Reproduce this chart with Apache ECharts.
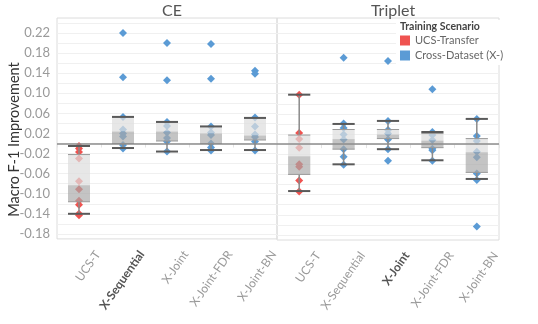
<!DOCTYPE html>
<html><head><meta charset="utf-8">
<script src="https://cdn.jsdelivr.net/npm/echarts@6/dist/echarts.min.js"></script>
<style>html,body{margin:0;padding:0;background:#fff}#c{width:538px;height:324px}</style>
</head><body><div id="c"></div>
<script>
// ---- data ----
const categories = ['UCS-T', 'X-Sequential', 'X-Joint', 'X-Joint-FDR', 'X-Joint-BN'];
const panels = ['CE', 'Triplet'];
const boldCategory = ['X-Sequential', 'X-Joint'];           // highlighted label per panel
const yTickLabels = ['-0.18', '-0.14', '-0.10', '-0.06', '-0.02', '0.02', '0.06', '0.10', '0.14', '0.18', '0.22'];
const seriesNames = ['UCS-Transfer', 'Cross-Dataset (X-)'];

// individual runs (Macro F-1 improvement)
const ceUcsT = [-0.005, -0.010, -0.017, -0.030, -0.075, -0.091, -0.114, -0.122, -0.140, -0.143];
const ceXSeq = [0.220, 0.132, 0.053, 0.028, 0.020, 0.014, -0.003, -0.010];
const ceXJoint = [0.200, 0.126, 0.043, 0.035, 0.022, 0.011, 0.004, -0.016];
const ceXJointFDR = [0.198, 0.129, 0.034, 0.022, 0.017, 0.000, -0.008, -0.014];
const ceXJointBN = [0.145, 0.139, 0.052, 0.034, 0.018, 0.013, 0.004, -0.014];
const trUcsT = [0.098, 0.022, 0.010, -0.007, -0.040, -0.045, -0.072, -0.094];
const trXSeq = [0.171, 0.041, 0.032, 0.019, 0.009, -0.010, -0.025, -0.041];
const trXJoint = [0.165, 0.046, 0.028, 0.021, 0.009, -0.010, -0.033];
const trXJointFDR = [0.109, 0.024, 0.018, 0.008, -0.009, -0.012, -0.033];
const trXJointBN = [0.050, 0.016, 0.006, -0.015, -0.026, -0.058, -0.071, -0.163];

// box stats: [lower whisker, Q1, median, Q3, upper whisker]
const ceBoxStats = [
  [-0.140, -0.116, -0.083, -0.022, -0.005],
  [-0.009, 0.000, 0.024, 0.053, 0.053],
  [-0.016, 0.005, 0.024, 0.043, 0.043],
  [-0.013, 0.000, 0.020, 0.034, 0.034],
  [-0.013, 0.007, 0.016, 0.051, 0.051]
];
const trBoxStats = [
  [-0.093, -0.060, -0.024, 0.018, 0.098],
  [-0.040, -0.010, 0.010, 0.029, 0.040],
  [-0.010, 0.011, 0.019, 0.029, 0.046],
  [-0.032, -0.007, 0.007, 0.021, 0.024],
  [-0.069, -0.056, -0.016, 0.011, 0.050]
];

const panelPoints = [
  [ceUcsT, ceXSeq, ceXJoint, ceXJointFDR, ceXJointBN],
  [trUcsT, trXSeq, trXJoint, trXJointFDR, trXJointBN]
];
const panelBoxes = [ceBoxStats, trBoxStats];

// ---- style ----
const RED = '#ef5350';
const BLUE = '#5b9bd5';
const FONT = 'Lato';

function renderBox(params, api) {
  const x = api.value(0);
  const pLow = api.coord([x, api.value(1)]);
  const pQ1 = api.coord([x, api.value(2)]);
  const pMed = api.coord([x, api.value(3)]);
  const pQ3 = api.coord([x, api.value(4)]);
  const pHigh = api.coord([x, api.value(5)]);
  const w = api.size([1, 0])[0] * 0.5;
  const cx = pLow[0];
  const whisk = { stroke: '#8a8a8a', lineWidth: 1.5 };
  const cap = { stroke: '#5a5a5a', lineWidth: 2 };
  const edge = { stroke: '#9a9a9a', lineWidth: 1 };
  return {
    type: 'group',
    children: [
      { type: 'line', shape: { x1: cx, y1: pHigh[1], x2: cx, y2: pQ3[1] }, style: whisk },
      { type: 'line', shape: { x1: cx, y1: pQ1[1], x2: cx, y2: pLow[1] }, style: whisk },
      { type: 'rect', shape: { x: cx - w / 2, y: pQ3[1], width: w, height: pMed[1] - pQ3[1] }, style: { fill: 'rgba(222,222,222,0.72)' } },
      { type: 'rect', shape: { x: cx - w / 2, y: pMed[1], width: w, height: pQ1[1] - pMed[1] }, style: { fill: 'rgba(168,168,168,0.68)' } },
      { type: 'line', shape: { x1: cx - w / 2, y1: pQ3[1], x2: cx + w / 2, y2: pQ3[1] }, style: edge },
      { type: 'line', shape: { x1: cx - w / 2, y1: pQ1[1], x2: cx + w / 2, y2: pQ1[1] }, style: edge },
      { type: 'line', shape: { x1: cx - w / 2, y1: pHigh[1], x2: cx + w / 2, y2: pHigh[1] }, style: cap },
      { type: 'line', shape: { x1: cx - w / 2, y1: pLow[1], x2: cx + w / 2, y2: pLow[1] }, style: cap }
    ]
  };
}

const grids = [
  { left: 57, top: 18, width: 220, height: 222 },
  { left: 277, top: 18, width: 222, height: 222 }
];

const xAxes = [], yAxes = [], series = [], titles = [];
panels.forEach((p, gi) => {
  grids[gi].show = true;
  grids[gi].borderColor = '#dcdcdc';
  grids[gi].borderWidth = 1;
  grids[gi].backgroundColor = 'transparent';
  xAxes.push({
    type: 'category', gridIndex: gi, data: categories,
    axisLine: { show: false },
    axisTick: { show: true, lineStyle: { color: '#e4e4e4' }, length: 4 },
    axisLabel: {
      interval: 0, rotate: 55, margin: 0, fontFamily: FONT, fontSize: 12, color: '#9a9a9a',
      align: 'right', verticalAlign: 'top', lineHeight: 46,
      formatter: v => v === boldCategory[gi] ? '{b|' + v + '}' : v,
      rich: { b: { fontWeight: 'bold', color: '#555', fontFamily: FONT, fontSize: 12, lineHeight: 46 } }
    },
    splitLine: { show: false }
  });
  yAxes.push({
    type: 'value', gridIndex: gi, min: -0.19, max: 0.25, interval: 0.01,
    name: gi === 0 ? 'Macro F-1 Improvement' : '',
    nameLocation: 'middle', nameGap: 35, nameMoveOverlap: false,
    nameTextStyle: { fontFamily: FONT, fontSize: 14.5, color: '#333', padding: [0, 22, 0, 0] },
    axisLine: { show: false }, axisTick: { show: false },
    axisLabel: {
      show: gi === 0, fontFamily: FONT, fontSize: 13, color: '#9a9a9a', margin: 7,
      formatter: v => {
        const s = (Math.round(v * 100) / 100).toFixed(2);
        return yTickLabels.indexOf(s) >= 0 ? s : '';
      }
    },
    splitLine: { show: true, lineStyle: { color: ['rgba(0,0,0,0)', '#f0f0f0'], width: 1 } }
  });
  titles.push({
    text: p, left: gi === 0 ? 167 : 388, top: -2, textAlign: 'center',
    textStyle: { fontFamily: FONT, fontSize: 16, fontWeight: 'normal', color: '#555' }
  });
  const pts = panelPoints[gi];
  series.push({
    name: seriesNames[0], type: 'scatter', xAxisIndex: gi, yAxisIndex: gi,
    symbol: 'diamond', symbolSize: 8, itemStyle: { color: RED, opacity: 1 }, z: 2,
    data: pts[0].map(v => [0, v])
  });
  const blue = [];
  for (let c = 1; c < categories.length; c++) pts[c].forEach(v => blue.push([c, v]));
  series.push({
    name: seriesNames[1], type: 'scatter', xAxisIndex: gi, yAxisIndex: gi,
    symbol: 'diamond', symbolSize: 8, itemStyle: { color: BLUE, opacity: 1 }, z: 2,
    data: blue
  });
  series.push({
    type: 'custom', xAxisIndex: gi, yAxisIndex: gi, z: 3,
    renderItem: renderBox,
    encode: { x: 0, y: [1, 2, 3, 4, 5] },
    data: panelBoxes[gi].map((b, i) => [i].concat(b)),
    markLine: {
      silent: true, symbol: 'none', label: { show: false },
      lineStyle: { color: '#8c8c8c', width: 1.5, type: 'solid' },
      data: [{ yAxis: 0 }]
    }
  });
});

titles.push({
  text: 'Training Scenario', left: 400, top: 21, padding: 0,
  textStyle: { fontFamily: FONT, fontSize: 10.5, fontWeight: 'bold', color: '#444' }
});

const chart = echarts.init(document.getElementById('c'), null, { renderer: 'canvas' });
chart.setOption({
  animation: false,
  backgroundColor: '#fff',
  title: titles,
  grid: grids,
  xAxis: xAxes,
  yAxis: yAxes,
  legend: {
    data: seriesNames, orient: 'vertical', left: 396, top: 20,
    icon: 'rect', itemWidth: 10, itemHeight: 10, itemGap: 4,
    padding: [15, 4, 4, 4], backgroundColor: '#fff',
    textStyle: { fontFamily: FONT, fontSize: 11, color: '#666' },
    selectedMode: false
  },
  series: series
});
</script></body></html>
